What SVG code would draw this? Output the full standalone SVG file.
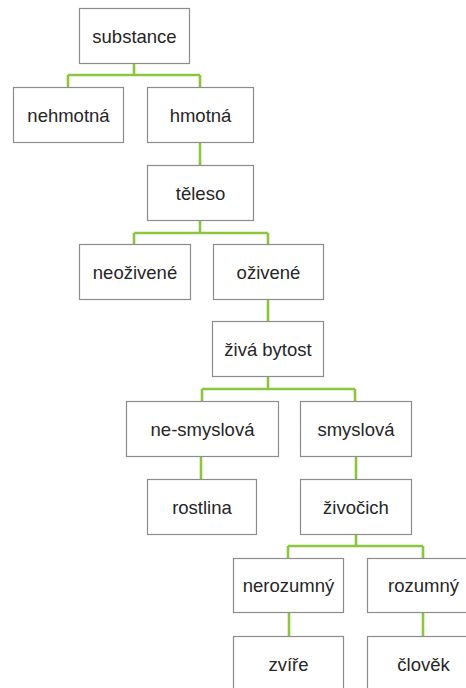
<svg xmlns="http://www.w3.org/2000/svg" width="466" height="688" viewBox="0 0 466 688">
  <style>
    .box { fill: #ffffff; stroke: #8c8c8c; stroke-width: 1.2; }
    .lbl { font-family: "Liberation Sans", Arial, sans-serif; font-size: 18.5px; fill: #262626; text-anchor: middle; }
    .link { fill: none; stroke: #8cc63f; stroke-width: 2.6; }
  </style>
  <rect width="466" height="688" fill="#ffffff"/>

  <!-- connectors -->
  <g id="connectors">
    <path class="link" d="M134 64 V75 M68 75 H200 M68 75 V87 M200 75 V87"/>
    <path class="link" d="M200 143 V165"/>
    <path class="link" d="M200 220 V233 M134 233 H268 M134 233 V244 M268 233 V244"/>
    <path class="link" d="M268 299 V321"/>
    <path class="link" d="M268 377 V389 M202 389 H355 M202 389 V401 M355 389 V401"/>
    <path class="link" d="M201 456 V479"/>
    <path class="link" d="M356 456 V479"/>
    <path class="link" d="M356 534 V546 M288 546 H423 M288 546 V558 M423 546 V558"/>
    <path class="link" d="M289 612 V636"/>
    <path class="link" d="M423 612 V636"/>
  </g>

  <!-- nodes -->
  <g id="substance"><rect class="box" x="79.5" y="8.5" width="110" height="55"/><text class="lbl" x="134.5" y="42.5">substance</text></g>
  <g id="nehmotna"><rect class="box" x="13.5" y="87.5" width="110" height="55"/><text class="lbl" x="68.5" y="121.5">nehmotná</text></g>
  <g id="hmotna"><rect class="box" x="147.5" y="87.5" width="106" height="55"/><text class="lbl" x="200.5" y="121.5">hmotná</text></g>
  <g id="teleso"><rect class="box" x="147.5" y="165.5" width="106" height="55"/><text class="lbl" x="200.5" y="199.5">těleso</text></g>
  <g id="neozivene"><rect class="box" x="79.5" y="244.5" width="111" height="55"/><text class="lbl" x="135" y="278.5">neoživené</text></g>
  <g id="ozivene"><rect class="box" x="213.5" y="244.5" width="110" height="55"/><text class="lbl" x="268.5" y="278.5">oživené</text></g>
  <g id="ziva-bytost"><rect class="box" x="212.5" y="321.5" width="111" height="55"/><text class="lbl" x="268" y="355.5">živá bytost</text></g>
  <g id="ne-smyslova"><rect class="box" x="126.5" y="401.5" width="152" height="55"/><text class="lbl" x="202.5" y="435.5">ne-smyslová</text></g>
  <g id="smyslova"><rect class="box" x="300.5" y="401.5" width="111" height="55"/><text class="lbl" x="356" y="435.5">smyslová</text></g>
  <g id="rostlina"><rect class="box" x="147.5" y="479.5" width="109" height="55"/><text class="lbl" x="202" y="513.5">rostlina</text></g>
  <g id="zivocich"><rect class="box" x="300.5" y="479.5" width="111" height="55"/><text class="lbl" x="356" y="513.5">živočich</text></g>
  <g id="nerozumny"><rect class="box" x="233.5" y="558.5" width="110" height="54"/><text class="lbl" x="288.5" y="591.5">nerozumný</text></g>
  <g id="rozumny"><rect class="box" x="367.5" y="558.5" width="112" height="54"/><text class="lbl" x="423.5" y="591.5">rozumný</text></g>
  <g id="zvire"><rect class="box" x="233.5" y="636.5" width="110" height="55"/><text class="lbl" x="288.5" y="670.5">zvíře</text></g>
  <g id="clovek"><rect class="box" x="367.5" y="636.5" width="112" height="55"/><text class="lbl" x="423.5" y="670.5">člověk</text></g>
</svg>
